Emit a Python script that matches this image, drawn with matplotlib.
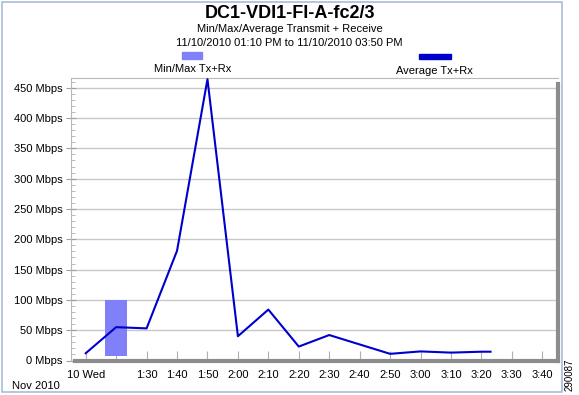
import numpy as np
import matplotlib.pyplot as plt
from matplotlib.patches import Rectangle

plt.rcParams['font.family'] = ['Liberation Sans', 'DejaVu Sans']

# ----------------------------
# Data (minutes after 1:10 PM)
# ----------------------------
avg_minutes = [0, 10, 15, 20, 30, 40, 50, 60, 70, 80, 100, 110, 120, 130, 133]
avg_mbps = [12, 55, 54, 53, 181, 464, 40, 84, 23, 42, 11, 15, 13, 14.5, 14.5]

minmax_minute = [9.9]
minmax_low = [8]
minmax_high = [100]

tick_minutes = np.arange(0, 160, 10)
tick_labels = ['10 Wed', '', '1:30', '1:40', '1:50', '2:00', '2:10', '2:20',
               '2:30', '2:40', '2:50', '3:00', '3:10', '3:20', '3:30', '3:40']
y_ticks = np.arange(0, 500, 50)
y_labels = ['%d Mbps' % v for v in y_ticks]

# ----------------------------
# Figure
# ----------------------------
W, H = 579, 395
fig = plt.figure(figsize=(W / 100, H / 100), dpi=100)
ax = fig.add_axes([70.5 / W, 1 - 360.5 / H, (557.5 - 70.5) / W, (360.5 - 77.7) / H])

ax.bar(minmax_minute, np.array(minmax_high) - np.array(minmax_low), width=7.3,
       bottom=minmax_low, color='#8080f8', zorder=2)
ax.plot(avg_minutes, avg_mbps, color='#0000cc', linewidth=1.5, zorder=3)

ax.set_xlim(-5, 155)
ax.set_ylim(0, 466.5)

ax.set_yticks(y_ticks)
ax.set_yticklabels(y_labels, fontsize=8)
ax.set_yticks(np.arange(0, 466, 10), minor=True)
ax.set_xticks(tick_minutes)
ax.set_xticklabels(tick_labels, fontsize=8)

ax.grid(axis='y', color='#c8c8c8', linewidth=1, zorder=0)
ax.set_axisbelow(True)
ax.tick_params(axis='y', which='major', direction='inout', length=7, color='#a0a0a0', pad=2)
ax.tick_params(axis='y', which='minor', direction='in', length=3, color='#b0b0b0')
ax.tick_params(axis='x', direction='in', length=7, color='#b0b0b0', pad=7)

for s in ['top', 'left']:
    ax.spines[s].set_color('#b8b8b8')
    ax.spines[s].set_linewidth(0.8)
for s in ['bottom', 'right']:
    ax.spines[s].set_color('#8c8c8c')
    ax.spines[s].set_linewidth(3)
ax.spines['bottom'].set_bounds(-3.4, 155)
ax.spines['right'].set_bounds(0, 456)

# titles
fig.text(0.5, 1 - 13 / H, 'DC1-VDI1-FI-A-fc2/3', ha='center', va='center',
         fontsize=13, fontweight='bold')
fig.text(0.5, 1 - 29 / H, 'Min/Max/Average Transmit + Receive', ha='center', va='center', fontsize=8)
fig.text(0.5, 1 - 42.5 / H, '11/10/2010 01:10 PM to 11/10/2010 03:50 PM', ha='center', va='center', fontsize=8)

# legend
fig.patches.append(Rectangle((181.7 / W, 1 - 59 / H), 20 / W, 7.3 / H,
                             transform=fig.transFigure, color='#8080f8'))
fig.text(193 / W, 1 - 69.5 / H, 'Min/Max Tx+Rx', ha='center', va='center', fontsize=8)
fig.patches.append(Rectangle((419 / W, 1 - 59 / H), 31.5 / W, 5 / H,
                             transform=fig.transFigure, color='#0000cc'))
fig.text(434.7 / W, 1 - 70.5 / H, 'Average Tx+Rx', ha='center', va='center', fontsize=8)

fig.text(12 / W, 1 - 386 / H, 'Nov 2010', ha='left', va='center', fontsize=8)
fig.text(570 / W, 1 - 375 / H, '290087', ha='center', va='center', fontsize=7, rotation=90)

# outer frame
fig.patches.append(Rectangle((2 / W, 1 - 391.5 / H), 560 / W, 389.5 / H,
                             transform=fig.transFigure, fill=False,
                             edgecolor='#a8bcd8', linewidth=1.2))

fig.savefig('out.png', dpi=100)
